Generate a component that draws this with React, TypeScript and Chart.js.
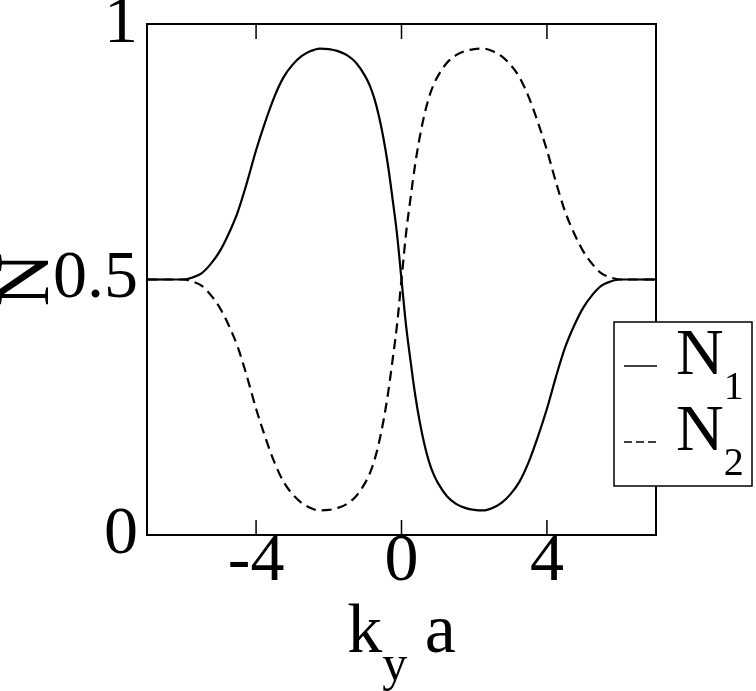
import { useEffect, useRef } from "react"
import { Chart, type ChartConfiguration, type Plugin, registerables } from "chart.js"

Chart.register(...registerables)

const kya = [
  -7, -6.5, -6, -5.75, -5.5, -5.25, -5, -4.75, -4.5, -4.25, -4, -3.75, -3.5, -3.25, -3, -2.75, -2.5, -2.25, -2, -1.75,
  -1.5, -1.25, -1, -0.875, -0.75, -0.625, -0.5, -0.375, -0.25, -0.125, 0, 0.125, 0.25, 0.375, 0.5, 0.625, 0.75, 0.875,
  1, 1.25, 1.5, 1.75, 2, 2.25, 2.5, 2.75, 3, 3.25, 3.5, 3.75, 4, 4.25, 4.5, 4.75, 5, 5.25, 5.5, 5.75, 6, 6.5, 7,
]

// N1 (solid)
const n1 = [
  0.5, 0.5, 0.5, 0.504, 0.512, 0.53, 0.555, 0.59, 0.633, 0.69, 0.753, 0.808, 0.857, 0.895, 0.92, 0.937, 0.947, 0.952,
  0.951, 0.947, 0.939, 0.924, 0.898, 0.88, 0.855, 0.821, 0.778, 0.725, 0.66, 0.59, 0.5, 0.41, 0.34, 0.275, 0.222,
  0.179, 0.145, 0.12, 0.102, 0.076, 0.061, 0.053, 0.049, 0.048, 0.053, 0.063, 0.08, 0.105, 0.143, 0.192, 0.247, 0.31,
  0.367, 0.41, 0.445, 0.47, 0.488, 0.496, 0.5, 0.5, 0.5,
]

// N2 (dashed)
const n2 = [
  0.5, 0.5, 0.5, 0.496, 0.488, 0.47, 0.445, 0.41, 0.367, 0.31, 0.247, 0.192, 0.143, 0.105, 0.08, 0.063, 0.053, 0.048,
  0.049, 0.053, 0.061, 0.076, 0.102, 0.12, 0.145, 0.179, 0.222, 0.275, 0.34, 0.41, 0.5, 0.59, 0.66, 0.725, 0.778,
  0.821, 0.855, 0.88, 0.898, 0.924, 0.939, 0.947, 0.951, 0.952, 0.947, 0.937, 0.92, 0.895, 0.857, 0.808, 0.753, 0.69,
  0.633, 0.59, 0.555, 0.53, 0.512, 0.504, 0.5, 0.5, 0.5,
]

const xTicks = [-4, 0, 4]
const yTicks = [0, 0.5, 1]
const legendSubs = ["1", "2"]

const SERIF = '"Liberation Serif", "DejaVu Serif", serif'

const decorPlugin: Plugin = {
  id: "decor",
  afterDraw(chart) {
    const { ctx, chartArea: ca } = chart
    const xs = chart.scales.x
    const ys = chart.scales.y
    ctx.save()
    ctx.strokeStyle = "#000"
    ctx.fillStyle = "#000"

    // frame
    ctx.lineWidth = 2
    ctx.strokeRect(ca.left, ca.top, ca.right - ca.left, ca.bottom - ca.top)

    // inward ticks on all four sides
    ctx.lineWidth = 1.5
    ctx.beginPath()
    xTicks.forEach((v) => {
      const px = xs.getPixelForValue(v)
      ctx.moveTo(px, ca.bottom)
      ctx.lineTo(px, ca.bottom - 15)
      ctx.moveTo(px, ca.top)
      ctx.lineTo(px, ca.top + 15)
    })
    yTicks.forEach((v) => {
      const py = ys.getPixelForValue(v)
      ctx.moveTo(ca.left, py)
      ctx.lineTo(ca.left + 15, py)
      ctx.moveTo(ca.right, py)
      ctx.lineTo(ca.right - 15, py)
    })
    ctx.stroke()

    // y title
    ctx.save()
    ctx.translate(29, (ca.top + ca.bottom) / 2)
    ctx.rotate(-Math.PI / 2)
    ctx.font = `74px ${SERIF}`
    ctx.textAlign = "center"
    ctx.textBaseline = "middle"
    ctx.fillText("N", 0, 0)
    ctx.restore()

    // x title: k_y a
    ctx.textAlign = "left"
    ctx.textBaseline = "alphabetic"
    const big = `70px ${SERIF}`
    const small = `50px ${SERIF}`
    ctx.font = big
    const wk = ctx.measureText("k").width
    const wa = ctx.measureText(" a").width
    ctx.font = small
    const wy = ctx.measureText("y").width
    let tx = (ca.left + ca.right) / 2 - (wk + wy + wa) / 2
    const base = ca.bottom + 117
    ctx.font = big
    ctx.fillText("k", tx, base)
    tx += wk
    ctx.font = small
    ctx.fillText("y", tx, base + 28)
    tx += wy
    ctx.font = big
    ctx.fillText(" a", tx, base)

    // legend box
    const lx = ca.right - 42
    const ly = 322
    const lw = 138
    const lh = 164
    ctx.fillStyle = "#fff"
    ctx.fillRect(lx, ly, lw, lh)
    ctx.lineWidth = 1.5
    ctx.strokeRect(lx, ly, lw, lh)
    ctx.fillStyle = "#000"
    chart.data.datasets.forEach((ds, i) => {
      const rowY = ly + 44 + i * 76
      ctx.lineWidth = 1.5
      ctx.setLineDash(i === 0 ? [] : [8, 4])
      ctx.beginPath()
      ctx.moveTo(lx + 10, rowY)
      ctx.lineTo(lx + 43, rowY)
      ctx.stroke()
      ctx.setLineDash([])
      ctx.font = `66px ${SERIF}`
      const nb = rowY + 8
      ctx.fillText(String(ds.label), lx + 62, nb)
      const wn = ctx.measureText(String(ds.label)).width
      ctx.font = `40px ${SERIF}`
      ctx.fillText(legendSubs[i], lx + 62 + wn, nb + 25)
    })
    ctx.restore()
  },
}

export default function App() {
  const chartRef = useRef<HTMLCanvasElement>(null)
  const chartInstance = useRef<Chart | null>(null)

  useEffect(() => {
    document.body.style.margin = "0"
    if (!chartRef.current) return
    if (chartInstance.current) chartInstance.current.destroy()
    const ctx = chartRef.current.getContext("2d")
    if (!ctx) return

    const config: ChartConfiguration<"line"> = {
      type: "line",
      data: {
        datasets: [
          {
            label: "N",
            data: kya.map((x, i) => ({ x, y: n1[i] })),
            borderColor: "#000",
            borderWidth: 2.2,
            pointRadius: 0,
            cubicInterpolationMode: "monotone",
          },
          {
            label: "N",
            data: kya.map((x, i) => ({ x, y: n2[i] })),
            borderColor: "#000",
            borderWidth: 2.2,
            borderDash: [10, 6],
            pointRadius: 0,
            cubicInterpolationMode: "monotone",
          },
        ],
      },
      options: {
        responsive: true,
        maintainAspectRatio: false,
        animation: false,
        layout: { padding: { top: 24, right: 100, left: 0, bottom: 0 } },
        plugins: {
          legend: { display: false },
          tooltip: { enabled: false },
        },
        scales: {
          x: {
            type: "linear",
            min: -7,
            max: 7,
            grid: { display: false, drawTicks: false },
            border: { display: false },
            afterBuildTicks: (scale) => {
              scale.ticks = xTicks.map((value) => ({ value }))
            },
            afterFit: (scale) => {
              scale.height = 156
              scale.paddingLeft = 0
              scale.paddingRight = 0
            },
            ticks: {
              color: "#000",
              padding: -7,
              maxRotation: 0,
              callback: (v) => String(v),
              font: { family: SERIF, size: 68, lineHeight: 1 },
            },
          },
          y: {
            min: 0,
            max: 1,
            grid: { display: false, drawTicks: false },
            border: { display: false },
            afterBuildTicks: (scale) => {
              scale.ticks = yTicks.map((value) => ({ value }))
            },
            afterFit: (scale) => {
              scale.width = 147
              scale.paddingTop = 0
              scale.paddingBottom = 0
            },
            ticks: {
              color: "#000",
              padding: 9,
              callback: (v) => String(v),
              font: { family: SERIF, size: 68, lineHeight: 1 },
            },
          },
        },
      },
      plugins: [decorPlugin],
    }

    chartInstance.current = new Chart(ctx, config)

    return () => {
      if (chartInstance.current) {
        chartInstance.current.destroy()
        chartInstance.current = null
      }
    }
  }, [])

  return (
    <div style={{ width: 756, height: 691, position: "relative" }}>
      <canvas ref={chartRef} />
    </div>
  )
}
